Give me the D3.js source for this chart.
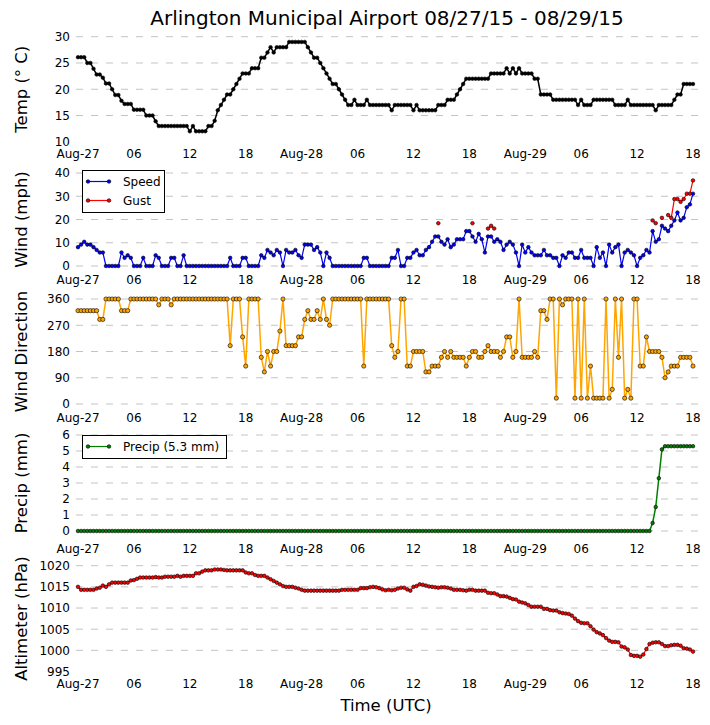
<!DOCTYPE html>
<html>
<head>
<meta charset="utf-8">
<script src="https://cdn.jsdelivr.net/npm/d3@7"></script>
<style>
  body { margin: 0; background: #fff; }
  svg { display: block; }
  text { font-family: "DejaVu Sans", sans-serif; fill: #000; }
</style>
</head>
<body>
<svg id="chart" width="710" height="725"></svg>
<script>
// Observations every 20 minutes, Aug-27 00:00 to Aug-29 18:00 UTC (199 reports)
const START = Date.UTC(2015, 7, 27, 0, 0);
const STEP_MIN = 20;

const tempC = [
  26.1, 26.1, 26.1, 25, 25, 23.9, 22.8, 22.8, 22.2, 21.1, 21.1, 20, 18.9, 18.9, 17.8, 17.2, 17.2, 17.2,
  16.1, 16.1, 16.1, 16.1, 15, 15, 15, 13.9, 13, 13, 13, 13, 13, 13, 13, 13, 13, 13,
  12, 13, 12, 12, 12, 12, 13, 13, 14, 16, 17, 18, 19, 19, 20, 21, 22, 23,
  23, 23, 24, 24, 24, 26, 26, 27, 28, 27, 28, 28, 28, 28, 29, 29, 29, 29,
  29, 29, 28, 27, 26, 26, 25, 24, 23, 22, 21, 21, 20, 19, 18, 17, 17, 18,
  17, 17, 17, 18, 17, 17, 17, 17, 17, 17, 17, 16, 17, 17, 17, 17, 17, 17,
  16, 17, 16, 16, 16, 16, 16, 16, 17, 17, 17, 18, 18, 18, 19, 20, 21, 22,
  22, 22, 22, 22, 22, 22, 22, 23, 23, 23, 23, 23, 24, 23, 24, 23, 24, 23,
  23, 23, 23, 22, 22, 19, 19, 19, 19, 18, 18, 18, 18, 18, 18, 18, 18, 17,
  18, 17, 17, 17, 18, 18, 18, 18, 18, 18, 18, 17, 17, 17, 17, 18, 17, 17,
  17, 17, 17, 17, 17, 17, 16, 17, 17, 17, 17, 17, 18, 19, 19, 21, 21, 21,
  21
];

const windMph = [
  8.1, 9.2, 10.4, 9.2, 9.2, 8.1, 6.9, 5.8, 5.8, 0, 0, 0, 0, 0, 5.8, 3.5, 4.6, 3.5,
  0, 0, 0, 3.5, 0, 0, 0, 4.6, 3.5, 0, 0, 0, 3.5, 3.5, 0, 0, 4.6, 0,
  0, 0, 0, 0, 0, 0, 0, 0, 0, 0, 0, 0, 0, 3.5, 0, 0, 0, 3.5,
  3.5, 0, 0, 0, 0, 4.6, 3.5, 6.9, 5.8, 4.6, 6.9, 5.8, 0, 6.9, 5.8, 5.8, 6.9, 4.6,
  3.5, 9.2, 9.2, 9.2, 6.9, 8.1, 5.8, 0, 5.8, 3.5, 0, 0, 0, 0, 0, 0, 0, 0,
  0, 0, 3.5, 3.5, 0, 0, 0, 0, 0, 0, 0, 3.5, 3.5, 6.9, 0, 0, 3.5, 3.5,
  5.8, 6.9, 4.6, 4.6, 6.9, 8.1, 10.4, 12.7, 12.7, 10.4, 9.2, 11.5, 8.1, 9.2, 11.5, 11.5, 11.5, 15,
  15, 12.7, 10.4, 13.8, 11.5, 5.8, 12.7, 12.7, 10.4, 11.5, 10.4, 6.9, 9.2, 10.4, 9.2, 5.8, 0, 9.2,
  5.8, 8.1, 5.8, 4.6, 4.6, 4.6, 6.9, 4.6, 4.6, 3.5, 3.5, 0, 4.6, 3.5, 5.8, 5.8, 3.5, 3.5,
  6.9, 3.5, 3.5, 3.5, 0, 8.1, 3.5, 5.8, 0, 9.2, 5.8, 8.1, 9.2, 0, 5.8, 6.9, 5.8, 4.6,
  0, 3.5, 4.6, 6.9, 5.8, 15, 10.4, 11.5, 17.3, 16.1, 15, 17.3, 19.6, 23, 19.6, 20.7, 25.3, 26.5,
  31.1
];

// gusts are only reported now and then: report number and value
const gustIndex = [116, 127, 132, 133, 134, 185, 186, 188, 190, 191, 192, 193, 194, 195, 196, 197, 198];
const gustMph = [18.4, 18.4, 16.1, 17.3, 16.1, 19.6, 18.4, 20.7, 21.9, 20.7, 28.8, 28.8, 27.6, 28.8, 31.1, 31.1, 36.8];

const windDir = [
  320, 320, 320, 320, 320, 320, 320, 290, 290, 360, 360, 360, 360, 360, 320, 320, 320, 360,
  360, 360, 360, 360, 360, 360, 360, 360, 340, 360, 360, 360, 340, 360, 360, 360, 360, 360,
  360, 360, 360, 360, 360, 360, 360, 360, 360, 360, 360, 360, 360, 200, 360, 360, 360, 230,
  130, 360, 360, 360, 360, 160, 110, 180, 130, 180, 180, 250, 360, 200, 200, 200, 200, 230,
  230, 290, 320, 290, 290, 320, 290, 360, 290, 270, 360, 360, 360, 360, 360, 360, 360, 360,
  360, 360, 130, 360, 360, 360, 360, 360, 360, 360, 360, 200, 160, 180, 360, 360, 130, 130,
  180, 180, 180, 180, 110, 110, 130, 130, 130, 160, 180, 160, 180, 160, 160, 160, 160, 130,
  160, 180, 180, 160, 160, 180, 200, 180, 180, 180, 160, 180, 230, 230, 160, 180, 360, 160,
  160, 160, 160, 180, 160, 320, 320, 290, 360, 360, 20, 360, 340, 360, 360, 360, 20, 360,
  20, 360, 20, 130, 20, 20, 20, 20, 360, 20, 50, 360, 160, 360, 20, 50, 20, 360,
  360, 130, 130, 230, 180, 180, 180, 180, 160, 90, 110, 130, 130, 130, 160, 160, 160, 160,
  130
];

const precipMm = [
  0, 0, 0, 0, 0, 0, 0, 0, 0, 0, 0, 0, 0, 0, 0, 0, 0, 0,
  0, 0, 0, 0, 0, 0, 0, 0, 0, 0, 0, 0, 0, 0, 0, 0, 0, 0,
  0, 0, 0, 0, 0, 0, 0, 0, 0, 0, 0, 0, 0, 0, 0, 0, 0, 0,
  0, 0, 0, 0, 0, 0, 0, 0, 0, 0, 0, 0, 0, 0, 0, 0, 0, 0,
  0, 0, 0, 0, 0, 0, 0, 0, 0, 0, 0, 0, 0, 0, 0, 0, 0, 0,
  0, 0, 0, 0, 0, 0, 0, 0, 0, 0, 0, 0, 0, 0, 0, 0, 0, 0,
  0, 0, 0, 0, 0, 0, 0, 0, 0, 0, 0, 0, 0, 0, 0, 0, 0, 0,
  0, 0, 0, 0, 0, 0, 0, 0, 0, 0, 0, 0, 0, 0, 0, 0, 0, 0,
  0, 0, 0, 0, 0, 0, 0, 0, 0, 0, 0, 0, 0, 0, 0, 0, 0, 0,
  0, 0, 0, 0, 0, 0, 0, 0, 0, 0, 0, 0, 0, 0, 0, 0, 0, 0,
  0, 0, 0, 0, 0, 0.5, 1.5, 3.3, 5.1, 5.3, 5.3, 5.3, 5.3, 5.3, 5.3, 5.3, 5.3, 5.3,
  5.3
];

const altHpa = [
  1015.0, 1014.3, 1014.3, 1014.3, 1014.3, 1014.3, 1014.6, 1014.8, 1015.3, 1015.0, 1015.6, 1016.0, 1016.0, 1016.0, 1016.0, 1016.0, 1016.0, 1016.5,
  1016.6, 1016.9, 1017.2, 1017.2, 1017.2, 1017.2, 1017.2, 1017.3, 1017.2, 1017.2, 1017.4, 1017.4, 1017.4, 1017.4, 1017.6, 1017.4, 1017.6, 1017.6,
  1017.6, 1017.6, 1018.2, 1018.2, 1018.6, 1018.9, 1018.9, 1018.9, 1019.1, 1019.1, 1019.1, 1019.0, 1018.9, 1018.9, 1018.9, 1018.9, 1018.9, 1018.9,
  1018.4, 1018.2, 1018.2, 1017.8, 1017.6, 1017.6, 1017.6, 1017.2, 1016.8, 1016.4, 1016.0, 1015.6, 1015.2, 1015.0, 1015.0, 1015.0, 1014.8, 1014.6,
  1014.3, 1014.1, 1014.1, 1014.1, 1014.1, 1014.1, 1014.1, 1014.1, 1014.1, 1014.1, 1014.1, 1014.1, 1014.1, 1014.3, 1014.3, 1014.3, 1014.3, 1014.3,
  1014.3, 1014.7, 1014.7, 1014.7, 1014.9, 1015.0, 1014.9, 1014.7, 1014.4, 1014.2, 1014.3, 1014.2, 1014.3, 1014.6, 1014.8, 1014.8, 1014.4, 1014.1,
  1015.0, 1015.2, 1015.6, 1015.5, 1015.3, 1015.1, 1015.0, 1014.9, 1014.8, 1014.9, 1014.9, 1014.8, 1014.6, 1014.3, 1014.3, 1014.3, 1014.2, 1014.1,
  1014.3, 1014.3, 1014.1, 1014.1, 1014.1, 1014.1, 1013.6, 1013.5, 1013.5, 1013.2, 1012.8, 1012.8, 1012.7, 1012.4, 1012.1, 1012.0, 1011.5, 1011.3,
  1011.1, 1010.7, 1010.3, 1010.3, 1010.3, 1010.3, 1009.8, 1009.8, 1009.5, 1009.4, 1009.4, 1009.0, 1008.8, 1008.7, 1008.6, 1008.2, 1007.5, 1006.9,
  1006.5, 1006.4, 1006.4, 1005.7, 1004.9, 1004.3, 1004.0, 1003.6, 1002.9, 1002.3, 1002.0, 1002.0, 1001.9, 1000.9, 1000.7, 1000.2, 998.9, 998.7,
  998.7, 998.5, 999.0, 1000.3, 1001.5, 1001.8, 1001.9, 1001.9, 1001.5, 1001.0, 1001.0, 1001.2, 1001.3, 1001.3, 1001.1, 1000.5, 1000.4, 1000.2,
  999.7
];

const xTickLabels = ['Aug-27', '06', '12', '18', 'Aug-28', '06', '12', '18', 'Aug-29', '06', '12', '18'];
const tempTicks = [10, 15, 20, 25, 30];
const windTicks = [0, 10, 20, 30, 40];
const dirTicks = [0, 90, 180, 270, 360];
const precipTicks = [0, 1, 2, 3, 4, 5, 6];
const altTicks = [995, 1000, 1005, 1010, 1015, 1020];

// ── build time-stamped series ─────────────────────────────────────────────
const times = tempC.map((_, i) => new Date(START + i * STEP_MIN * 60000));
const series = (vals) => vals.map((v, i) => ({ t: times[i], v }));
const gustFull = times.map(() => null);
gustIndex.forEach((k, j) => { gustFull[k] = gustMph[j]; });

const svg = d3.select('#chart');

const x = d3.scaleUtc()
  .domain([new Date(START), new Date(START + 66 * 3600000)])
  .range([78, 693]);
const xTicks = xTickLabels.map((_, i) => new Date(START + i * 6 * 3600000));

const GRID_X0 = 76, GRID_X1 = 703;

// ── panels ────────────────────────────────────────────────────────────────
const panels = [
  { label: 'Temp (° C)', ticks: tempTicks, top: 36.7, bottom: 141.8, labelY: 154, skipBottomGrid: true,
    lines: [{ data: series(tempC), color: '#000', mark: '#000', w: 1.5 }] },
  { label: 'Wind (mph)', ticks: windTicks, top: 173, bottom: 266, labelY: 279.5,
    lines: [
      { data: series(windMph), color: '#0000ff', mark: '#0000ff', w: 1.2 },
      { data: series(gustFull), color: '#ff0000', mark: '#ff0000', w: 1.2 }
    ] },
  { label: 'Wind Direction', ticks: dirTicks, top: 299, bottom: 404, labelY: 418,
    lines: [{ data: series(windDir), color: '#ffa500', mark: '#ffa500', w: 1.5, r: 2.1 }] },
  { label: 'Precip (mm)', ticks: precipTicks, top: 435, bottom: 531, labelY: 549,
    lines: [{ data: series(precipMm), color: '#008000', mark: '#008000', w: 1.5 }] },
  { label: 'Altimeter (hPa)', ticks: altTicks, top: 565.7, bottom: 671.5, labelY: 684, skipBottomGrid: true,
    lines: [{ data: series(altHpa), color: '#ff0000', mark: '#ff0000', w: 1.2 }] }
];

panels.forEach((p) => {
  const y = d3.scaleLinear().domain([p.ticks[0], p.ticks[p.ticks.length - 1]]).range([p.bottom, p.top]);
  const g = svg.append('g');

  // dashed horizontal grid
  p.ticks.forEach((t, i) => {
    if (i === 0 && p.skipBottomGrid) return;
    g.append('line')
      .attr('x1', GRID_X0).attr('x2', GRID_X1)
      .attr('y1', y(t)).attr('y2', y(t))
      .attr('stroke', '#c4c4c4').attr('stroke-width', 1)
      .attr('stroke-dasharray', '7,8');
  });

  // y tick labels
  p.ticks.forEach((t) => {
    g.append('text')
      .attr('x', 70).attr('y', y(t)).attr('dy', '0.36em')
      .attr('text-anchor', 'end').attr('font-size', '12px')
      .text(t);
  });

  // x tick labels
  xTicks.forEach((d, i) => {
    g.append('text')
      .attr('x', x(d)).attr('y', p.labelY).attr('dy', '0.36em')
      .attr('text-anchor', 'middle').attr('font-size', '12px')
      .text(xTickLabels[i]);
  });

  // y axis title
  g.append('text')
    .attr('transform', `translate(21,${(p.top + p.bottom) / 2}) rotate(-90)`)
    .attr('text-anchor', 'middle').attr('dy', '0.36em')
    .attr('font-size', '16.5px')
    .text(p.label);

  // data
  p.lines.forEach((s) => {
    const line = d3.line()
      .defined((d) => d.v != null)
      .x((d) => x(d.t))
      .y((d) => y(d.v));
    g.append('path')
      .attr('d', line(s.data))
      .attr('fill', 'none')
      .attr('stroke', s.color)
      .attr('stroke-width', s.w)
      .attr('stroke-linejoin', 'round');
    g.selectAll(null)
      .data(s.data.filter((d) => d.v != null))
      .join('circle')
      .attr('cx', (d) => x(d.t))
      .attr('cy', (d) => y(d.v))
      .attr('r', s.r || 1.8)
      .attr('fill', s.mark)
      .attr('stroke', '#000')
      .attr('stroke-width', 0.6);
  });
});

// ── legends ───────────────────────────────────────────────────────────────
function legend(x0, y0, w, items) {
  const h = items.length * 19 + 4;
  const lg = svg.append('g');
  lg.append('rect')
    .attr('x', x0 + 0.5).attr('y', y0 + 0.5).attr('width', w).attr('height', h)
    .attr('fill', '#fff').attr('stroke', '#000').attr('stroke-width', 1);
  items.forEach((it, i) => {
    const cy = y0 + 11.5 + i * 19;
    lg.append('line')
      .attr('x1', x0 + 6).attr('x2', x0 + 27).attr('y1', cy).attr('y2', cy)
      .attr('stroke', it.color).attr('stroke-width', 1.2);
    [x0 + 6, x0 + 27].forEach((cx) => {
      lg.append('circle').attr('cx', cx).attr('cy', cy).attr('r', 1.8)
        .attr('fill', it.color).attr('stroke', '#000').attr('stroke-width', 0.6);
    });
    lg.append('text')
      .attr('x', x0 + 41).attr('y', cy).attr('dy', '0.36em')
      .attr('font-size', '12px')
      .text(it.name);
  });
}
legend(82, 170, 82, [{ name: 'Speed', color: '#0000ff' }, { name: 'Gust', color: '#ff0000' }]);
legend(82, 435, 144, [{ name: 'Precip (5.3 mm)', color: '#008000' }]);

// ── titles ────────────────────────────────────────────────────────────────
svg.append('text')
  .attr('x', 387).attr('y', 25)
  .attr('text-anchor', 'middle').attr('font-size', '20px')
  .text('Arlington Municipal Airport 08/27/15 - 08/29/15');

svg.append('text')
  .attr('x', 386).attr('y', 711)
  .attr('text-anchor', 'middle').attr('font-size', '16.5px')
  .text('Time (UTC)');
</script>
</body>
</html>
